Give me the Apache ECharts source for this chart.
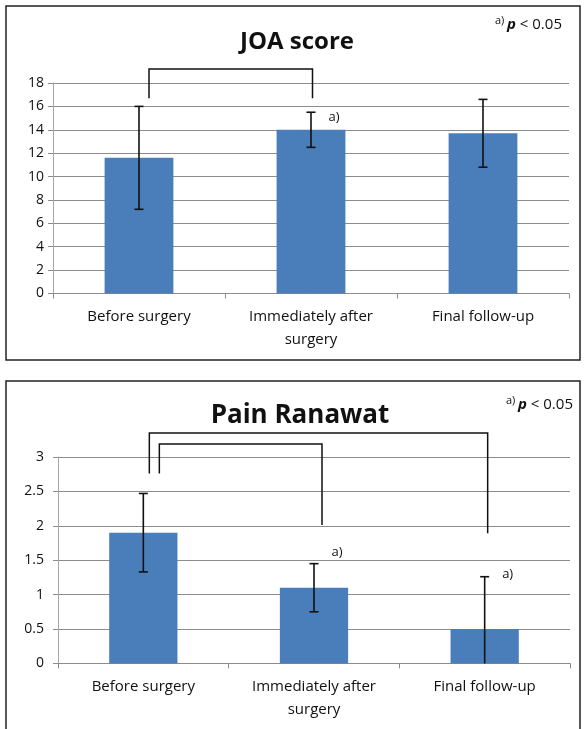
<!DOCTYPE html>
<html><head><meta charset="utf-8">
<script src="https://cdn.jsdelivr.net/npm/echarts@6/dist/echarts.min.js"></script>
<style>html,body{margin:0;padding:0;background:#fff}#c{width:586px;height:729px}</style>
</head><body><div id="c"></div>
<script>
// ---- data ----
const categories = ['Before surgery', 'Immediately after\nsurgery', 'Final follow-up'];
const joaMeans = [11.6, 14.0, 13.7];
const joaLow = [7.2, 12.5, 10.8];
const joaHigh = [16.0, 15.5, 16.6];
const painMeans = [1.9, 1.1, 0.5];
const painLow = [1.33, 0.75, 0];
const painHigh = [2.47, 1.45, 1.26];
const joaTitle = 'JOA score';
const painTitle = 'Pain Ranawat';
const sigNote = 'p < 0.05';
const sigMark = 'a)';
// significance brackets: [fromCat, toCat, topValue, fromEndValue, toEndValue]
const joaBrackets = [[0, 1, 19.2, 16.7, 16.7]];
const painBrackets = [[0, 2, 3.35, 2.76, 1.89], [0, 1, 3.19, 2.76, 2.01]];
// "a)" markers: [category, value]
const joaMarks = [[1, 15.07]];
const painMarks = [[1, 1.62], [2, 1.30]];

// ---- layout constants ----
const FONT = '"Open Sans", "Liberation Sans", sans-serif';
const joaBracketOffsets = [[10, 1.5]];
const painBracketOffsets = [[6, 3], [16, 8]];
const markOffsetX = 23;

function errRender(params, api) {
  const x = api.value(0), lo = api.value(1), hi = api.value(2);
  const p1 = api.coord([x, hi]), p2 = api.coord([x, lo]);
  const h = 4.5;
  const style = { stroke: '#111', lineWidth: 1.6 };
  const ch = [
    { type: 'line', shape: { x1: p1[0], y1: p1[1], x2: p2[0], y2: p2[1] }, style },
    { type: 'line', shape: { x1: p1[0] - h, y1: p1[1], x2: p1[0] + h, y2: p1[1] }, style }
  ];
  if (lo > 0) ch.push({ type: 'line', shape: { x1: p2[0] - h, y1: p2[1], x2: p2[0] + h, y2: p2[1] }, style });
  return { type: 'group', children: ch };
}
function bracketRender(offsets) {
  return function (params, api) {
    const a = api.value(0), b = api.value(1), top = api.value(2), ea = api.value(3), eb = api.value(4);
    const off = offsets[params.dataIndex];
    const pa = api.coord([a, ea]), pb = api.coord([b, eb]);
    const ta = api.coord([a, top]);
    const xa = pa[0] + off[0], xb = pb[0] + off[1], yt = ta[1];
    return { type: 'polyline', shape: { points: [[xa, pa[1]], [xa, yt], [xb, yt], [xb, pb[1]]] },
      style: { stroke: '#111', lineWidth: 1.5, fill: null } };
  };
}
function markRender(params, api) {
  const p = api.coord([api.value(0), api.value(1)]);
  return { type: 'text', x: p[0] + markOffsetX, y: p[1],
    style: { text: sigMark, font: '13px ' + FONT, fill: '#111', align: 'center', verticalAlign: 'middle',
      textAlign: 'center', textVerticalAlign: 'middle' } };
}
function xAxisCfg(gi) {
  return { type: 'category', gridIndex: gi, data: categories,
    axisLine: { lineStyle: { color: '#8c8c8c', width: 1 } },
    axisTick: { show: true, length: 5, lineStyle: { color: '#8c8c8c' } },
    axisLabel: { fontFamily: FONT, fontSize: 15, color: '#111', margin: 12, lineHeight: 23, interval: 0 } };
}
function yAxisCfg(gi, min, max, interval, margin) {
  return { type: 'value', gridIndex: gi, min, max, interval,
    axisLine: { show: true, lineStyle: { color: '#a6a6a6', width: 1 } },
    axisTick: { show: true, length: 5, lineStyle: { color: '#8c8c8c' } },
    splitLine: { lineStyle: { color: '#8c8c8c', width: 1 } },
    axisLabel: { fontFamily: FONT, fontSize: 14, color: '#111', margin } };
}
function txt(x, y, text, size, weight, align, extra) {
  return Object.assign({ type: 'text', x, y, z: 10,
    style: Object.assign({ text, font: (weight || 'normal') + ' ' + size + 'px ' + FONT, fill: '#111',
      align: align || 'left', verticalAlign: 'middle', textAlign: align || 'left', textVerticalAlign: 'middle' }, extra || {}) });
}
function note(x, y) {
  return [
    txt(x, y - 4, sigMark, 11, 'normal', 'left'),
    txt(x + 12, y, '{b|p} < 0.05', 15, 'normal', 'left', {
      rich: { b: { fontFamily: FONT, fontSize: 15, fontWeight: 'bold', fontStyle: 'italic', fill: '#111' } } })
  ];
}

const chart = echarts.init(document.getElementById('c'), null, { renderer: 'canvas' });
chart.setOption({
  animation: false,
  backgroundColor: '#fff',
  grid: [
    { left: 53, right: 17, top: 83, height: 210.5 },
    { left: 58, right: 16, top: 457, height: 206.4 }
  ],
  xAxis: [xAxisCfg(0), xAxisCfg(1)],
  yAxis: [yAxisCfg(0, 0, 18, 2, 9), yAxisCfg(1, 0, 3, 0.5, 14)],
  series: [
    { type: 'bar', xAxisIndex: 0, yAxisIndex: 0, data: joaMeans, barWidth: '40%', itemStyle: { color: '#4A7EBB' } },
    { type: 'bar', xAxisIndex: 1, yAxisIndex: 1, data: painMeans, barWidth: '40%', itemStyle: { color: '#4A7EBB' } },
    { type: 'custom', xAxisIndex: 0, yAxisIndex: 0, renderItem: errRender, z: 5,
      data: joaMeans.map((m, i) => [i, joaLow[i], joaHigh[i]]) },
    { type: 'custom', xAxisIndex: 1, yAxisIndex: 1, renderItem: errRender, z: 5,
      data: painMeans.map((m, i) => [i, painLow[i], painHigh[i]]) },
    { type: 'custom', xAxisIndex: 0, yAxisIndex: 0, renderItem: bracketRender(joaBracketOffsets), clip: false, z: 5,
      data: joaBrackets },
    { type: 'custom', xAxisIndex: 1, yAxisIndex: 1, renderItem: bracketRender(painBracketOffsets), clip: false, z: 5,
      data: painBrackets },
    { type: 'custom', xAxisIndex: 0, yAxisIndex: 0, renderItem: markRender, clip: false, z: 6, data: joaMarks },
    { type: 'custom', xAxisIndex: 1, yAxisIndex: 1, renderItem: markRender, clip: false, z: 6, data: painMarks }
  ],
  graphic: [
    { type: 'rect', shape: { x: 6, y: 6, width: 574, height: 354 }, style: { fill: null, stroke: '#222', lineWidth: 1.5 }, z: 20 },
    { type: 'rect', shape: { x: 6, y: 381, width: 574, height: 360 }, style: { fill: null, stroke: '#222', lineWidth: 1.5 }, z: 20 },
    txt(297, 42, joaTitle, 24, 'bold', 'center'),
    txt(300, 416, painTitle, 26, 'bold', 'center'),
    ...note(495, 25),
    ...note(506, 405)
  ]
});
</script></body></html>
